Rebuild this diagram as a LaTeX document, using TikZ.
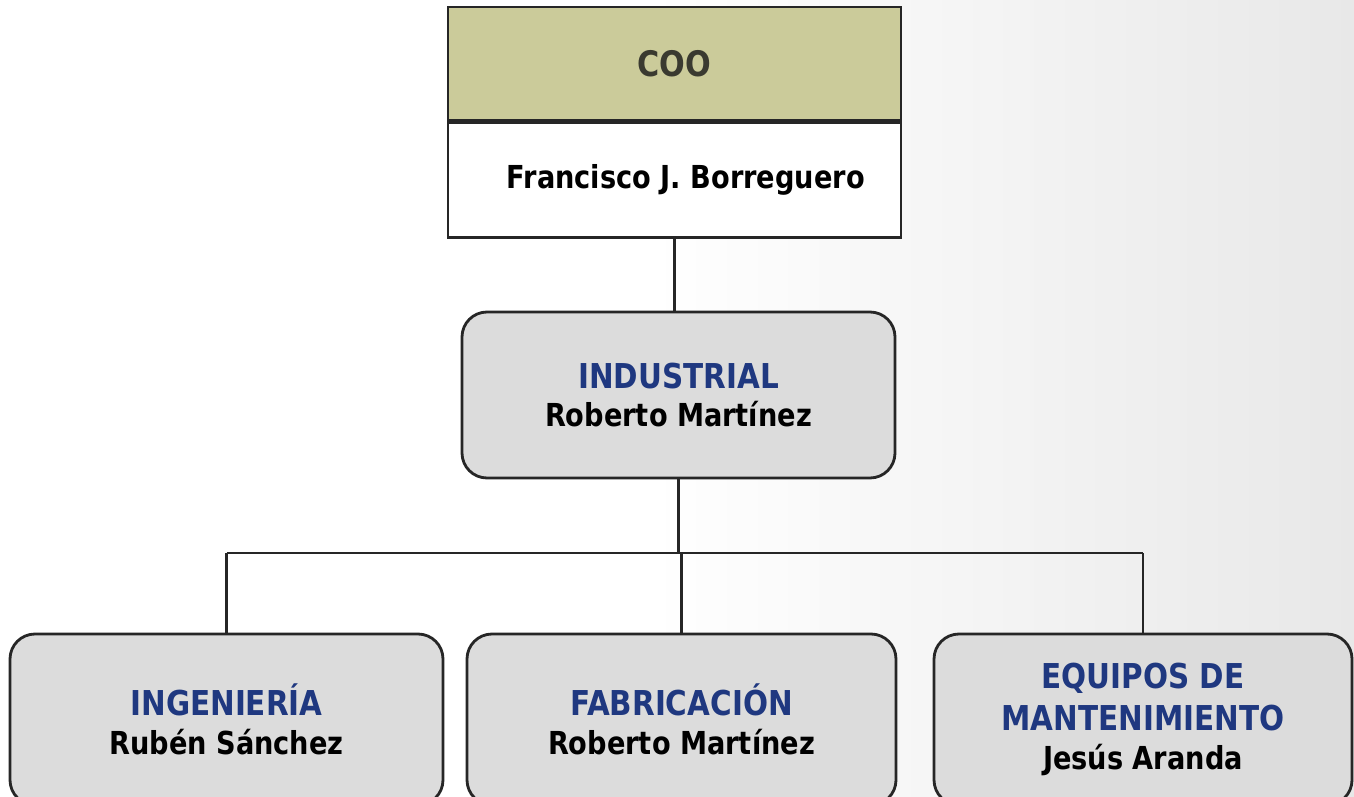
\documentclass[tikz,border=0pt]{standalone}
\usepackage{fontspec}
\setmainfont{DejaVu Sans}[FakeStretch=0.86]
\usetikzlibrary{positioning}

\definecolor{cooolive}{RGB}{203,203,154}
\definecolor{unitgray}{RGB}{220,220,220}
\definecolor{titleblue}{RGB}{31,56,128}
\definecolor{cootext}{RGB}{58,58,48}

\tikzset{
  headbox/.style={draw=black!85, line width=1.6pt, minimum width=9.06cm},
  unit/.style={draw=black!85, line width=1.6pt, fill=unitgray, rounded corners=0.5cm, align=center, font=\bfseries\fontsize{18}{22}\selectfont},
  link/.style={line width=1.5pt, draw=black!85},
}
\newcommand{\unittitle}[1]{{\color{titleblue}\fontsize{19.5}{26}\selectfont #1}}

\begin{document}
\begin{tikzpicture}
    \useasboundingbox (0,0) rectangle (27.08,-15.94);
    % faint backdrop on the right
    \shade[left color=white, right color=black!9] (13,0) rectangle (27.08,-15.94);

    \node [headbox, fill=cooolive, minimum height=2.26cm, font=\bfseries\fontsize{20}{24}\selectfont] (coo) at (13.49,-1.27) {\color{cootext}COO};
    \node [headbox, fill=white, minimum height=2.3cm, below=0pt of coo, font=\bfseries\fontsize{18}{22}\selectfont] (ceo) {\hspace*{0.45cm}Francisco J. Borreguero};

    \node [unit, minimum width=8.66cm, minimum height=3.32cm] (ind) at (13.57,-7.9) {\unittitle{INDUSTRIAL}\\Roberto Martínez};

    \node [unit, minimum width=8.66cm, minimum height=3.42cm] (ing) at (4.53,-14.39) {\unittitle{INGENIERÍA}\\Rubén Sánchez};
    \node [unit, minimum width=8.58cm, minimum height=3.42cm] (fab) at (13.63,-14.39) {\unittitle{FABRICACIÓN}\\Roberto Martínez};
    \node [unit, minimum width=8.36cm, minimum height=3.42cm] (mant) at (22.86,-14.39) {\unittitle{EQUIPOS DE}\\[2pt]\unittitle{MANTENIMIENTO}\\Jesús Aranda};

    \coordinate (bus) at (0,-11.06);

    \draw [link] (ceo.south) -- (ceo.south |- ind.north);
    \draw [link] (ind.south) -- (ind.south |- bus);
    \draw [link] (ing.north |- bus) -- (mant.north |- bus);
    \foreach \n in {ing,fab,mant}
        \draw [link] (\n.north |- bus) -- (\n.north);
\end{tikzpicture}
\end{document}
